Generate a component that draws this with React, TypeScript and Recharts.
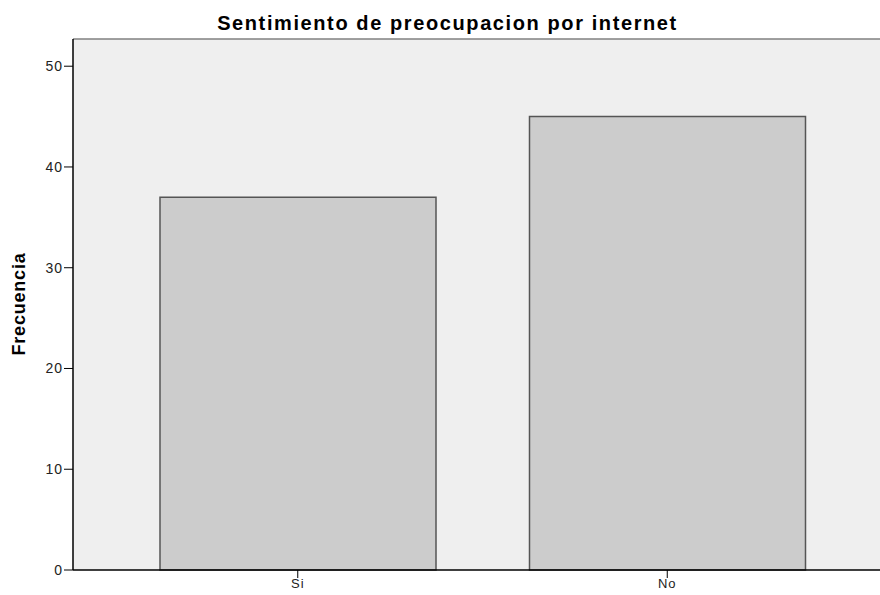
import { BarChart, Bar, XAxis, YAxis, CartesianGrid, ReferenceLine } from "recharts"

const categories = ["Si", "No"]
const frecuencia = [37, 45]
const yTicks = [0, 10, 20, 30, 40, 50]
const yMax = 52.7

const data = categories.map((c, i) => ({ cat: c, frecuencia: frecuencia[i] }))

const font = "'Liberation Sans', Arial, sans-serif"

export default function App() {
    return (
        <div style={{ position: "absolute", left: 0, top: 0, width: 880, height: 595, background: "#fff", fontFamily: font }}>
            <div style={{ position: "absolute", left: 0, width: 895, top: 12, textAlign: "center", fontSize: 20, letterSpacing: 1.6, fontWeight: "bold", color: "#000", lineHeight: "normal" }}>
                Sentimiento de preocupacion por internet
            </div>
            <div style={{ position: "absolute", left: 19, top: 304, transform: "translate(-50%, -50%) rotate(-90deg)", fontSize: 18, letterSpacing: 0.8, fontWeight: "bold", color: "#000", whiteSpace: "nowrap" }}>
                Frecuencia
            </div>
            <BarChart width={880} height={595} data={data} margin={{ top: 39, right: 0, left: 0, bottom: 0 }} barCategoryGap={46}>
                <CartesianGrid horizontal={false} vertical={false} fill="#efefef" />
                <ReferenceLine y={yMax} stroke="#808080" strokeWidth={1.5} />
                <XAxis
                    dataKey="cat"
                    height={25}
                    padding={{ left: 40, right: 28 }}
                    axisLine={{ stroke: "#000", strokeWidth: 1.5 }}
                    tickLine={{ stroke: "#000" }}
                    tickSize={8}
                    tickMargin={1}
                    tick={{ fill: "#222", fontSize: 13, letterSpacing: 1, fontFamily: font }}
                />
                <YAxis
                    width={73}
                    domain={[0, yMax]}
                    ticks={yTicks}
                    axisLine={{ stroke: "#000", strokeWidth: 1.5 }}
                    tickLine={{ stroke: "#000" }}
                    tickSize={9}
                    tickMargin={1}
                    tick={{ fill: "#222", fontSize: 14, letterSpacing: 1, fontFamily: font }}
                />
                <Bar dataKey="frecuencia" fill="#cccccc" stroke="#555555" strokeWidth={1.5} barSize={276} isAnimationActive={false} />
            </BarChart>
        </div>
    )
}
